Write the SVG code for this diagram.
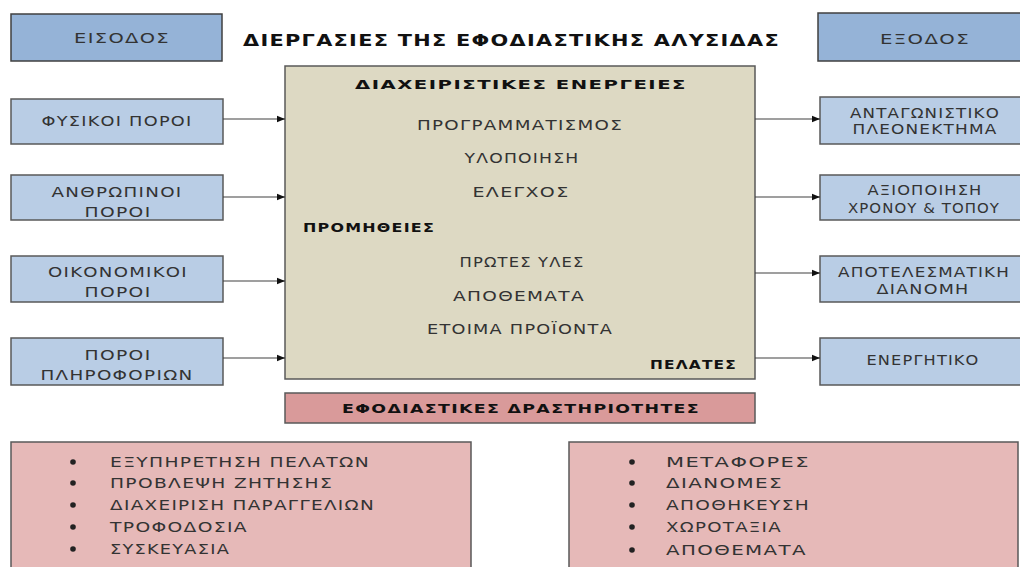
<svg xmlns="http://www.w3.org/2000/svg" width="1020" height="567" viewBox="0 0 1020 567">
<defs>
<style>
text{font-family:"DejaVu Sans","Liberation Sans",sans-serif;letter-spacing:1px;}
.hdr{fill:#95b3d7;stroke:#404040;stroke-width:1.5;}
.side{fill:#b9cde5;stroke:#595959;stroke-width:1.5;}
.ctr{fill:#ddd9c3;stroke:#595959;stroke-width:1.5;}
.pinkh{fill:#d99a9a;stroke:#595959;stroke-width:1.5;}
.pink{fill:#e6b9b8;stroke:#595959;stroke-width:1.5;}
.t{font-size:14px;fill:#333;text-anchor:middle;}
.tb{font-size:13px;font-weight:bold;fill:#111;}
.li{font-size:14px;fill:#333;}
.conn{stroke:#404040;stroke-width:1.2;fill:none;marker-end:url(#ah);}
</style>
<marker id="ah" viewBox="0 0 10 10" refX="10" refY="5" markerWidth="10" markerHeight="8" markerUnits="userSpaceOnUse" orient="auto">
<path d="M0,1 L10,5 L0,9 Z" fill="#111"/>
</marker>
</defs>
<rect width="1020" height="567" fill="#ffffff"/>

<g id="input-header">
<rect class="hdr" x="11" y="14" width="211" height="47"/>
<text class="t" x="122" y="43" textLength="96" lengthAdjust="spacingAndGlyphs" fill="#2a3344">ΕΙΣΟΔΟΣ</text>
</g>
<g id="title">
<text x="243" y="46" font-size="16" font-weight="bold" fill="#111" textLength="537" lengthAdjust="spacingAndGlyphs">ΔΙΕΡΓΑΣΙΕΣ ΤΗΣ ΕΦΟΔΙΑΣΤΙΚΗΣ ΑΛΥΣΙΔΑΣ</text>
</g>
<g id="output-header">
<rect class="hdr" x="818" y="13" width="214" height="48"/>
<text class="t" x="925" y="44" textLength="90" lengthAdjust="spacingAndGlyphs" fill="#2a3344">ΕΞΟΔΟΣ</text>
</g>

<g id="in1">
<rect class="side" x="11" y="99" width="212" height="45"/>
<text class="t" x="117" y="126" textLength="151" lengthAdjust="spacingAndGlyphs">ΦΥΣΙΚΟΙ ΠΟΡΟΙ</text>
</g>
<g id="in2">
<rect class="side" x="11" y="175" width="212" height="45"/>
<text class="t" x="117" y="197" textLength="131" lengthAdjust="spacingAndGlyphs">ΑΝΘΡΩΠΙΝΟΙ</text>
<text class="t" x="118" y="217" textLength="67" lengthAdjust="spacingAndGlyphs">ΠΟΡΟΙ</text>
</g>
<g id="in3">
<rect class="side" x="11" y="256" width="212" height="46"/>
<text class="t" x="118" y="277" textLength="140" lengthAdjust="spacingAndGlyphs">ΟΙΚΟΝΟΜΙΚΟΙ</text>
<text class="t" x="118" y="297" textLength="67" lengthAdjust="spacingAndGlyphs">ΠΟΡΟΙ</text>
</g>
<g id="in4">
<rect class="side" x="11" y="338" width="212" height="47"/>
<text class="t" x="118" y="360" textLength="67" lengthAdjust="spacingAndGlyphs">ΠΟΡΟΙ</text>
<text class="t" x="117" y="380" textLength="153" lengthAdjust="spacingAndGlyphs">ΠΛΗΡΟΦΟΡΙΩΝ</text>
</g>

<g id="center">
<rect class="ctr" x="285" y="66" width="470" height="313"/>
<text class="tb" x="521" y="89" text-anchor="middle" font-size="15" textLength="332" lengthAdjust="spacingAndGlyphs">ΔΙΑΧΕΙΡΙΣΤΙΚΕΣ ΕΝΕΡΓΕΙΕΣ</text>
<text class="t" x="520" y="130" textLength="206" lengthAdjust="spacingAndGlyphs">ΠΡΟΓΡΑΜΜΑΤΙΣΜΟΣ</text>
<text class="t" x="522" y="163" textLength="115" lengthAdjust="spacingAndGlyphs">ΥΛΟΠΟΙΗΣΗ</text>
<text class="t" x="521" y="197" textLength="97" lengthAdjust="spacingAndGlyphs">ΕΛΕΓΧΟΣ</text>
<text class="tb" x="303" y="232" textLength="132" lengthAdjust="spacingAndGlyphs">ΠΡΟΜΗΘΕΙΕΣ</text>
<text class="t" x="522" y="267" textLength="125" lengthAdjust="spacingAndGlyphs">ΠΡΩΤΕΣ ΥΛΕΣ</text>
<text class="t" x="519" y="301" textLength="132" lengthAdjust="spacingAndGlyphs">ΑΠΟΘΕΜΑΤΑ</text>
<text class="t" x="520" y="334" textLength="186" lengthAdjust="spacingAndGlyphs">ΕΤΟΙΜΑ ΠΡΟΪΟΝΤΑ</text>
<text class="tb" x="650" y="369" textLength="87" lengthAdjust="spacingAndGlyphs">ΠΕΛΑΤΕΣ</text>
</g>

<g id="out1">
<rect class="side" x="820" y="97" width="212" height="47"/>
<text class="t" x="925" y="118" textLength="150" lengthAdjust="spacingAndGlyphs">ΑΝΤΑΓΩΝΙΣΤΙΚΟ</text>
<text class="t" x="925" y="134" textLength="145" lengthAdjust="spacingAndGlyphs">ΠΛΕΟΝΕΚΤΗΜΑ</text>
</g>
<g id="out2">
<rect class="side" x="820" y="175" width="212" height="45"/>
<text class="t" x="925" y="195" textLength="115" lengthAdjust="spacingAndGlyphs">ΑΞΙΟΠΟΙΗΣΗ</text>
<text class="t" x="924" y="213" textLength="152" lengthAdjust="spacingAndGlyphs">ΧΡΟΝΟΥ &amp; ΤΟΠΟΥ</text>
</g>
<g id="out3">
<rect class="side" x="820" y="256" width="212" height="46"/>
<text class="t" x="924" y="277" textLength="172" lengthAdjust="spacingAndGlyphs">ΑΠΟΤΕΛΕΣΜΑΤΙΚΗ</text>
<text class="t" x="923" y="294" textLength="93" lengthAdjust="spacingAndGlyphs">ΔΙΑΝΟΜΗ</text>
</g>
<g id="out4">
<rect class="side" x="820" y="338" width="212" height="47"/>
<text class="t" x="923" y="365" textLength="113" lengthAdjust="spacingAndGlyphs">ΕΝΕΡΓΗΤΙΚΟ</text>
</g>

<g id="activities-header">
<rect class="pinkh" x="285" y="393" width="470" height="30"/>
<text class="tb" x="521" y="413" text-anchor="middle" font-size="14" textLength="358" lengthAdjust="spacingAndGlyphs">ΕΦΟΔΙΑΣΤΙΚΕΣ ΔΡΑΣΤΗΡΙΟΤΗΤΕΣ</text>
</g>

<g id="activities-left">
<rect class="pink" x="11" y="442" width="460" height="140"/>
<g fill="#222">
<circle cx="73" cy="462" r="2.8"/><circle cx="73" cy="483" r="2.8"/><circle cx="73" cy="505" r="2.8"/><circle cx="73" cy="527" r="2.8"/><circle cx="73" cy="549" r="2.8"/>
</g>
<text class="li" x="110" y="467" textLength="260" lengthAdjust="spacingAndGlyphs">ΕΞΥΠΗΡΕΤΗΣΗ ΠΕΛΑΤΩΝ</text>
<text class="li" x="110" y="488" textLength="223" lengthAdjust="spacingAndGlyphs">ΠΡΟΒΛΕΨΗ ΖΗΤΗΣΗΣ</text>
<text class="li" x="110" y="510" textLength="265" lengthAdjust="spacingAndGlyphs">ΔΙΑΧΕΙΡΙΣΗ ΠΑΡΑΓΓΕΛΙΩΝ</text>
<text class="li" x="110" y="532" textLength="138" lengthAdjust="spacingAndGlyphs">ΤΡΟΦΟΔΟΣΙΑ</text>
<text class="li" x="110" y="554" textLength="120" lengthAdjust="spacingAndGlyphs">ΣΥΣΚΕΥΑΣΙΑ</text>
</g>

<g id="activities-right">
<rect class="pink" x="569" y="442" width="449" height="140"/>
<g fill="#222">
<circle cx="632" cy="462" r="2.8"/><circle cx="632" cy="483" r="2.8"/><circle cx="632" cy="505" r="2.8"/><circle cx="632" cy="527" r="2.8"/><circle cx="632" cy="550" r="2.8"/>
</g>
<text class="li" x="666" y="467" textLength="144" lengthAdjust="spacingAndGlyphs">ΜΕΤΑΦΟΡΕΣ</text>
<text class="li" x="666" y="488" textLength="117" lengthAdjust="spacingAndGlyphs">ΔΙΑΝΟΜΕΣ</text>
<text class="li" x="666" y="510" textLength="144" lengthAdjust="spacingAndGlyphs">ΑΠΟΘΗΚΕΥΣΗ</text>
<text class="li" x="666" y="532" textLength="116" lengthAdjust="spacingAndGlyphs">ΧΩΡΟΤΑΞΙΑ</text>
<text class="li" x="666" y="555" textLength="141" lengthAdjust="spacingAndGlyphs">ΑΠΟΘΕΜΑΤΑ</text>
</g>

<g id="connectors">
<line class="conn" x1="223" y1="119" x2="285" y2="119"/>
<line class="conn" x1="223" y1="197" x2="285" y2="197"/>
<line class="conn" x1="223" y1="281" x2="285" y2="281"/>
<line class="conn" x1="223" y1="358" x2="285" y2="358"/>
<line class="conn" x1="755" y1="119" x2="820" y2="119"/>
<line class="conn" x1="755" y1="197" x2="820" y2="197"/>
<line class="conn" x1="755" y1="273" x2="820" y2="273"/>
<line class="conn" x1="755" y1="358" x2="820" y2="358"/>
</g>
</svg>
